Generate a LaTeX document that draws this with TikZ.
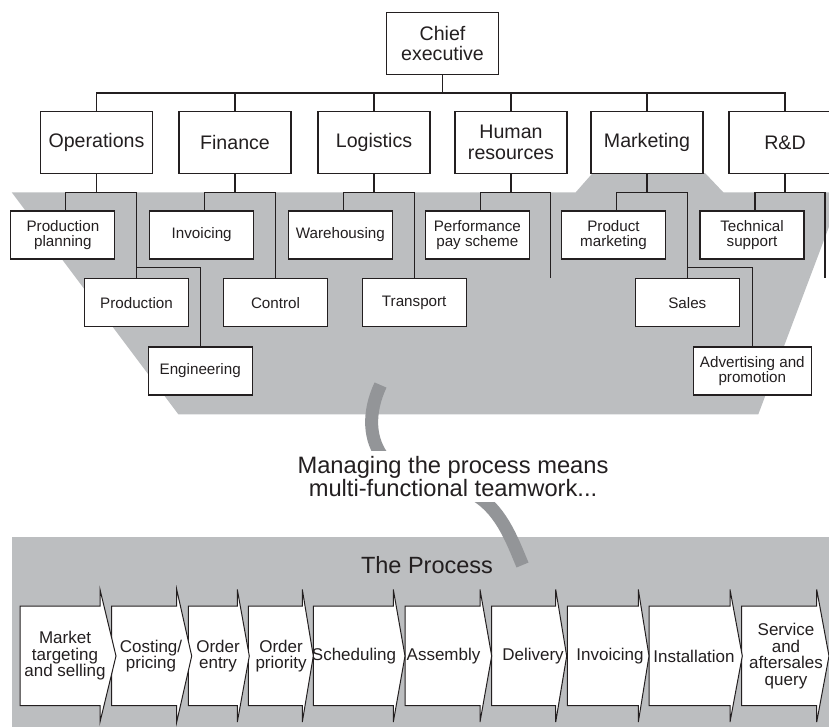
\documentclass[tikz,border=0pt]{standalone}
\usepackage{fontspec}
\setmainfont{Liberation Sans}
\definecolor{lgray}{HTML}{BCBEC0}
\definecolor{dgray}{HTML}{939598}
\definecolor{ink}{HTML}{231F20}
\newcommand{\pstep}[3]{\draw[parrow] (#1,606) -- (#2,606) -- (#2,589.5) -- (#3,656) -- (#2,722) -- (#2,705.5) -- (#1,705.5) -- cycle;}
\tikzset{
  lvl/.style={draw=ink, fill=white, line width=1.1pt, minimum width=112pt, minimum height=61.6pt, inner sep=0pt, align=center, text=ink, font=\fontsize{19.6}{20.5}\selectfont},
  sub/.style={draw=ink, fill=white, line width=1.1pt, minimum width=104pt, minimum height=48pt, inner sep=0pt, align=center, text=ink, font=\fontsize{15.2}{15.4}\selectfont},
  conn/.style={draw=ink, line width=1.1pt},
  band/.style={draw=dgray, line width=13pt},
  parrow/.style={draw=ink, fill=white, line width=1pt, line join=miter},
  ptext/.style={inner sep=0pt, align=center, text=ink, font=\fontsize{17}{16.5}\selectfont},
  msg/.style={fill=white, inner xsep=4pt, inner ysep=0pt, minimum height=51pt, align=center, text=ink, font=\fontsize{23.7}{22}\selectfont},
  ttl/.style={inner sep=0pt, text=ink, font=\fontsize{23.5}{24}\selectfont}
}
\begin{document}
\begin{tikzpicture}[x=1pt,y=-1pt]
\useasboundingbox (0,0) rectangle (829,726);
\clip (0,0) rectangle (829,726);
% background shapes
\fill[lgray] (11.7,192.3) -- (575.7,192.3) -- (592.7,173) -- (705,173) -- (723.3,192.3) -- (842,192.3) -- (758.3,414.3) -- (178.3,414.3) -- cycle;
\fill[lgray] (11.7,536.7) rectangle (845,735);
\draw[band] (380.5,385) .. controls (368,412) and (368,440) .. (385,460) .. controls (400,478) and (440,478) .. (470,492) .. controls (500,506) and (512,540) .. (522.5,565);
\node[msg] (msg) at (453,476.5) {Managing the process means\\multi-functional teamwork...};
\node[ttl, anchor=base] (proc) at (427,573) {The Process};
% org chart
\coordinate (ytop) at (0,93);
\coordinate (yb) at (0,192.3);
\coordinate (yc) at (0,267.7);
\coordinate (hrend) at (550.3,277.7);
\coordinate (rdend) at (825,277.7);
\node[lvl] (ceo) at (442.5,43.5) {Chief\\executive};
\node[lvl] (ops) at (96.5,142.5) {Operations};
\node[lvl] (fin) at (235,142.5) {Finance};
\node[lvl] (log) at (374,142.5) {Logistics};
\node[lvl] (hr) at (511,142.5) {Human\\resources};
\node[lvl] (mkt) at (647,142.5) {Marketing};
\node[lvl] (rd) at (785,142.5) {R\&D};
\node[sub] (pp) at (62.9,235) {Production\\planning};
\node[sub] (prod) at (136.5,302.9) {Production};
\node[sub] (eng) at (200.2,371) {Engineering};
\node[sub] (inv) at (201.7,235) {Invoicing};
\node[sub] (ctrl) at (275.5,302.9) {Control};
\node[sub] (ware) at (340.3,235) {Warehousing};
\node[sub] (trans) at (414.2,302.9) {Transport};
\node[sub] (perf) at (477.3,235) {Performance\\pay scheme};
\node[sub] (pmkt) at (613.5,235) {Product\\marketing};
\node[sub] (sales) at (687.3,302.9) {Sales};
\node[sub, minimum width=118pt] (adv) at (752.3,371) {Advertising and\\promotion};
\node[sub] (tech) at (752,235) {Technical\\support};
% connectors
\draw[conn] (ceo.south) -- (ceo.south |- ytop);
\draw[conn] (ops.north) |- (ytop -| rd.north) -- (rd.north);
\foreach \n in {fin,log,hr,mkt} \draw[conn] (\n.north) -- (\n.north |- ytop);
\foreach \n in {ops,fin,log,hr,mkt,rd} \draw[conn] (\n.south) -- (\n.south |- yb);
\draw[conn] ([xshift=3pt]pp.north) |- (yb -| prod.north) -- (prod.north);
\draw[conn] (yc -| prod.north) -| (eng.north);
\draw[conn] ([xshift=3pt]inv.north) |- (yb -| ctrl.north) -- (ctrl.north);
\draw[conn] ([xshift=3pt]ware.north) |- (yb -| trans.north) -- (trans.north);
\draw[conn] ([xshift=3pt]perf.north) |- (yb -| hrend) -- (hrend);
\draw[conn] ([xshift=3pt]pmkt.north) |- (yb -| sales.north) -- (sales.north);
\draw[conn] (yc -| sales.north) -| (adv.north);
\draw[conn] ([xshift=3pt]tech.north) |- (yb -| rdend) -- (rdend);
% process arrows (right to left so each head lies on the next box)
\pstep{741.7}{816.7}{829}
\pstep{649}{730}{742.3}
\pstep{567.3}{638.3}{649}
\pstep{491.7}{555.7}{566.7}
\pstep{405}{480}{491.7}
\pstep{313.3}{393.3}{405}
\pstep{248.3}{302.3}{313.3}
\pstep{188.3}{237.3}{249.3}
\pstep{111.7}{176.7}{191.7}
\pstep{20}{100}{116}
\node[ptext] (s1) at (65,656) {Market\\targeting\\and selling};
\node[ptext] (s2) at (151,656) {Costing/\\pricing};
\node[ptext] (s3) at (218,656) {Order\\entry};
\node[ptext] (s4) at (281,656) {Order\\priority};
\node[ptext] (s5) at (354,656) {Scheduling};
\node[ptext] (s6) at (443.5,656) {Assembly};
\node[ptext] (s7) at (533,656) {Delivery};
\node[ptext] (s8) at (610,656) {Invoicing};
\node[ptext] (s9) at (694,656) {Installation};
\node[ptext] (s10) at (786,656) {Service\\and\\aftersales\\query};
\end{tikzpicture}
\end{document}
